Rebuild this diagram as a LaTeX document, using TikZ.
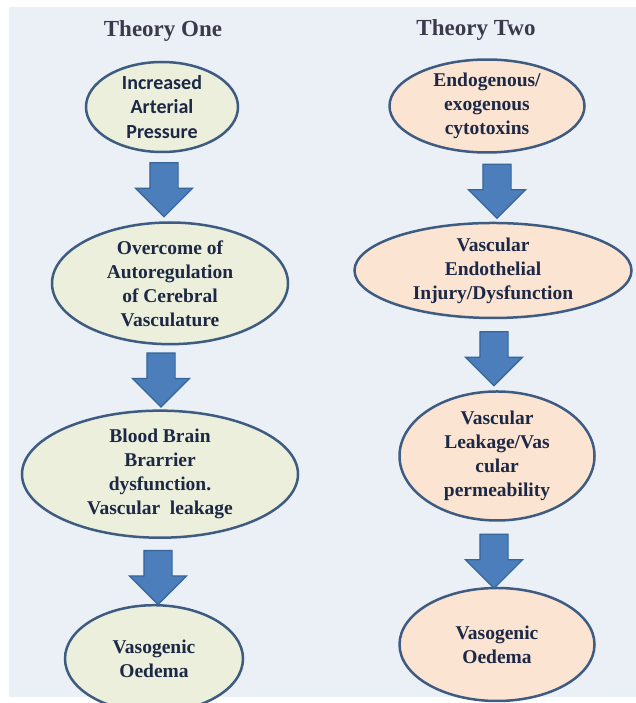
\documentclass[tikz,border=0pt]{standalone}
\usepackage{fontspec}
\setmainfont{Liberation Serif}
\newfontfamily\calibri{Carlito}
\usetikzlibrary{positioning,shapes.geometric,shapes.arrows}

\definecolor{pagebg}{HTML}{EAF0F6}
\definecolor{titletext}{HTML}{3B3A4C}
\definecolor{nodetext}{HTML}{1C2845}
\definecolor{edgeblue}{HTML}{3E5C82}
\definecolor{onefill}{HTML}{EBEFDB}
\definecolor{twofill}{HTML}{FBE4D2}
\definecolor{arrowblue}{HTML}{4C7EBC}
\definecolor{arrowedge}{HTML}{36659A}

\begin{document}
\begin{tikzpicture}[
        x=1pt, y=-1pt,
        title/.style={font=\fontsize{23}{27}\selectfont\bfseries, text=titletext},
        bubble/.style={ellipse, draw=edgeblue, line width=2.5pt, inner sep=0pt, align=center,
                       font=\fontsize{19.5}{24}\selectfont\bfseries, text=nodetext},
        oneside/.style={bubble, fill=onefill},
        twoside/.style={bubble, fill=twofill},
        downarrow/.style={single arrow, draw=arrowedge, fill=arrowblue, line width=1.2pt,
                          inner xsep=0pt, inner ysep=13.5pt, minimum height=54pt,
                          single arrow head extend=14.5pt, single arrow head indent=0pt,
                          rotate=-90, anchor=tail}
      ]

      \useasboundingbox (0,0) rectangle (636,703);
      \fill[pagebg] (9,7) rectangle (636,697);

      % theory one
      \node (T1) [title] at (163,31) {Theory One};
      \node (L1) [oneside, minimum width=152pt, minimum height=90pt, font=\fontsize{20}{24.5}\selectfont\calibri\bfseries] at (162,107) {Increased\\Arterial\\Pressure};
      \node (L2) [oneside, minimum width=236pt, minimum height=112pt, below=68pt of L1, xshift=8pt] {Overcome of\\Autoregulation\\of Cerebral\\Vasculature};
      \node (L3) [oneside, minimum width=276pt, minimum height=119pt, below=64pt of L2, xshift=-10pt] {Blood Brain\\Brarrier\\dysfunction.\\Vascular\ \ leakage};
      \node (L4) [oneside, minimum width=178pt, minimum height=107pt, below=65pt of L3, xshift=-6pt] {Vasogenic\\Oedema};

      % theory two
      \node (T2) [title] at (476,30) {Theory Two};
      \node (R1) [twoside, minimum width=195pt, minimum height=92pt] at (487,106) {Endogenous/\\exogenous\\cytotoxins};
      \node (R2) [twoside, minimum width=277pt, minimum height=95pt, below=68pt of R1, xshift=6pt] {Vascular\\Endothelial\\Injury/Dysfunction};
      \node (R3) [twoside, minimum width=195pt, minimum height=129pt, below=71pt of R2, xshift=4pt] {Vascular\\Leakage/Vas\\cular\\permeability};
      \node (R4) [twoside, minimum width=195pt, minimum height=113pt, below=65pt of R3] {Vasogenic\\Oedema};

      % block arrows
      \node (LA1) [downarrow] at ([xshift=2pt, yshift=-9pt]L1.south) {};
      \node (LA2) [downarrow] at ([xshift=-9pt, yshift=-7pt]L2.south) {};
      \node (LA3) [downarrow] at ([xshift=-2pt, yshift=-11pt]L3.south) {};
      \node (RA1) [downarrow] at ([xshift=10pt, yshift=-10pt]R1.south) {};
      \node (RA2) [downarrow] at ([xshift=1pt, yshift=-12pt]R2.south) {};
      \node (RA3) [downarrow] at ([xshift=-3pt, yshift=-12pt]R3.south) {};

    \end{tikzpicture}
\end{document}
